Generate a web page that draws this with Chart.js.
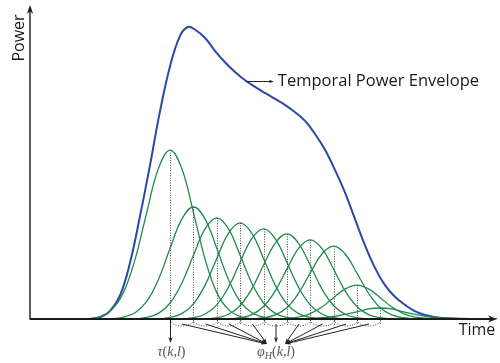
<!DOCTYPE html>
<html><head><meta charset="utf-8">
<script src="https://cdn.jsdelivr.net/npm/chart.js@4"></script>
<style>html,body{margin:0;padding:0;background:#fff}#wrap{width:500px;height:363px}</style>
</head><body><div id="wrap"><canvas id="c" width="500" height="363"></canvas></div>
<script>
// ---- data (time 0..100, power 0..100, arbitrary units) ----
const envelopeTime  = [0, 12.85, 15.0, 17.1, 19.3, 21.4, 23.6, 25.7, 27.8, 30.0, 32.1, 33.8, 35.3, 37.5, 39.6, 41.8, 43.9, 46.0, 48.2, 50.3, 52.5, 54.6, 56.7, 58.9, 61.0, 63.2, 65.3, 67.5, 69.6, 71.7, 73.9, 76.0, 78.2, 80.3, 82.4, 84.6, 87.8, 92.1, 100];
const envelopePower = [0, 0, 0.6, 2.5, 7.6, 17.8, 33.1, 49.0, 65.9, 80.6, 90.1, 93.0, 92.2, 89.5, 85.4, 81.7, 78.7, 76.1, 73.9, 72.0, 70.1, 68.2, 65.9, 63.1, 59.0, 53.8, 47.5, 40.1, 31.8, 23.6, 16.2, 10.8, 7.0, 4.5, 2.5, 1.3, 0.4, 0.1, 0];

const pulseCenters = [30, 35, 40, 45, 50, 55, 60, 65, 70, 75];
const pulseOffsets = [-17.5, -15, -12.5, -10, -7.5, -5, -2.5, 0, 2.5, 5, 7.5, 10, 12.5, 15, 17.5];
const pulse1  = [0, 0.8, 3.0, 8.4, 19.0, 33.9, 47.9, 53.8, 47.9, 33.9, 19.0, 8.4, 3.0, 0.8, 0];
const pulse2  = [0, 0.6, 2.0, 5.6, 12.6, 22.5, 31.8, 35.7, 31.8, 22.5, 12.6, 5.6, 2.0, 0.6, 0];
const pulse3  = [0, 0.5, 1.8, 5.1, 11.4, 20.3, 28.7, 32.2, 28.7, 20.3, 11.4, 5.1, 1.8, 0.5, 0];
const pulse4  = [0, 0.5, 1.7, 4.8, 10.8, 19.3, 27.3, 30.6, 27.3, 19.3, 10.8, 4.8, 1.7, 0.5, 0];
const pulse5  = [0, 0.4, 1.6, 4.5, 10.1, 18.1, 25.6, 28.7, 25.6, 18.1, 10.1, 4.5, 1.6, 0.4, 0];
const pulse6  = [0, 0.4, 1.5, 4.3, 9.6, 17.1, 24.1, 27.1, 24.1, 17.1, 9.6, 4.3, 1.5, 0.4, 0];
const pulse7  = [0, 0.4, 1.4, 4.0, 8.9, 15.9, 22.5, 25.2, 22.5, 15.9, 8.9, 4.0, 1.4, 0.4, 0];
const pulse8  = [0, 0.4, 1.3, 3.6, 8.2, 14.6, 20.7, 23.2, 20.7, 14.6, 8.2, 3.6, 1.3, 0.4, 0];
const pulse9  = [0, 0.2, 0.6, 1.7, 3.8, 6.8, 9.6, 10.8, 9.6, 6.8, 3.8, 1.7, 0.6, 0.2, 0];
const pulse10 = [0, 0.2, 0.4, 0.8, 1.5, 2.3, 3.2, 3.5, 3.2, 2.3, 1.5, 0.8, 0.4, 0.2, 0];
const pulsePower = [pulse1, pulse2, pulse3, pulse4, pulse5, pulse6, pulse7, pulse8, pulse9, pulse10];

const xAxisLabel = 'Time';
const yAxisLabel = 'Power';
const envelopeLabel = 'Temporal Power Envelope';
const envelopeLabelAt = 46;   // time where the label arrow starts

// ---- styles ----
const BLUE = '#2a48a8', GREEN = '#1f8a4b', DOT = '#4a4a4a', AX = '#1a1a1a';

function arrow(ctx, x1, y1, x2, y2, len, wid, color) {
  ctx.save();
  ctx.strokeStyle = color; ctx.fillStyle = color; ctx.setLineDash([]);
  const ang = Math.atan2(y2 - y1, x2 - x1);
  ctx.beginPath(); ctx.moveTo(x1, y1);
  ctx.lineTo(x2 - Math.cos(ang) * len * 0.6, y2 - Math.sin(ang) * len * 0.6); ctx.stroke();
  ctx.beginPath();
  ctx.moveTo(x2, y2);
  ctx.lineTo(x2 - Math.cos(ang) * len + Math.sin(ang) * wid, y2 - Math.sin(ang) * len - Math.cos(ang) * wid);
  ctx.lineTo(x2 - Math.cos(ang) * len * 0.7, y2 - Math.sin(ang) * len * 0.7);
  ctx.lineTo(x2 - Math.cos(ang) * len - Math.sin(ang) * wid, y2 - Math.sin(ang) * len + Math.cos(ang) * wid);
  ctx.closePath(); ctx.fill();
  ctx.restore();
}

function mathText(ctx, parts, cx, baseline, color) {
  ctx.save(); ctx.fillStyle = color; ctx.textBaseline = 'alphabetic'; ctx.textAlign = 'left';
  let w = 0;
  parts.forEach(p => { ctx.font = p[1]; w += ctx.measureText(p[0]).width; });
  let xx = cx - w / 2;
  parts.forEach(p => { ctx.font = p[1]; ctx.fillText(p[0], xx, baseline + (p[2] || 0)); xx += ctx.measureText(p[0]).width; });
  ctx.restore();
}

const annot = {
  id: 'annot',
  afterDatasetsDraw(chart) {
    const { ctx, scales: { x, y } } = chart;
    const y0 = y.getPixelForValue(0);
    const xL = x.getPixelForValue(0), xR = x.getPixelForValue(100), yT = y.getPixelForValue(100);
    const px = pulseCenters.map(c => Math.round(x.getPixelForValue(c)) + 0.5);
    ctx.save();
    // dotted verticals from each pulse peak
    ctx.strokeStyle = DOT; ctx.lineWidth = 1; ctx.setLineDash([1, 1.5]);
    pulseCenters.forEach((c, i) => {
      const peak = Math.max(...pulsePower[i]);
      ctx.beginPath(); ctx.moveTo(px[i], y.getPixelForValue(peak)); ctx.lineTo(px[i], y0 + 6); ctx.stroke();
    });
    // dotted arcs between consecutive delays
    for (let i = 0; i < px.length - 1; i++) {
      ctx.beginPath();
      ctx.moveTo(px[i], y0 + 1);
      ctx.bezierCurveTo(px[i] + 1, y0 + 9, px[i + 1] - 1, y0 + 9, px[i + 1], y0 + 1);
      ctx.stroke();
    }
    ctx.setLineDash([]);
    // axes
    ctx.strokeStyle = AX; ctx.lineWidth = 1.4;
    arrow(ctx, xL, y0 + 0.5, xL, yT, 9, 3.2, AX);
    ctx.lineWidth = 2.2;
    arrow(ctx, xL, y0, xR, y0, 9, 3.5, AX);
    // arrows towards phi_H
    ctx.lineWidth = 1;
    const phiX = (px[4] + px[5]) / 2;
    for (let i = 0; i < px.length - 1; i++) {
      const sx = (px[i] + px[i + 1]) / 2, sy = y0 + 5;
      let tx, ty = y0 + 25;
      if (i < 4) tx = phiX - 9; else if (i > 4) tx = phiX + 9; else { tx = phiX; ty = y0 + 24; }
      arrow(ctx, sx, sy, tx, ty, 6, 2, '#222');
    }
    // arrow towards tau
    arrow(ctx, px[0], y0 + 1, px[0], y0 + 24, 6, 2.2, '#222');
    // math labels
    const it = 'italic 14px "Liberation Serif"', up = '14px "Liberation Serif"', sub = 'italic 10px "Liberation Serif"';
    mathText(ctx, [['τ', it], ['(', up], ['k', it], [',', up], ['l', it], [')', up]], px[0] + 1, y0 + 37, '#555');
    mathText(ctx, [['φ', it], ['H', sub, 3], ['(', up], ['k', it], [',', up], ['l', it], [')', up]], phiX, y0 + 37, '#555');
    // axis labels
    ctx.fillStyle = '#1a1a1a'; ctx.font = '16px "Open Sans"';
    ctx.textAlign = 'center'; ctx.textBaseline = 'alphabetic';
    ctx.fillText(xAxisLabel, xR - 20, y0 + 16);
    ctx.save(); ctx.translate(xL - 6, yT + 33); ctx.rotate(-Math.PI / 2);
    ctx.fillText(yAxisLabel, 0, 0); ctx.restore();
    // envelope label
    const ex = x.getPixelForValue(envelopeLabelAt) + 1, ey = 81.5;
    ctx.lineWidth = 1;
    arrow(ctx, ex, ey, ex + 28, ey, 5, 1.8, '#222');
    ctx.font = '16.5px "Open Sans"';
    ctx.textAlign = 'left'; ctx.textBaseline = 'middle';
    ctx.fillText(envelopeLabel, ex + 32, ey);
    ctx.restore();
  }
};

const datasets = pulsePower.map((vals, i) => ({
  data: vals.map((v, j) => ({ x: pulseCenters[i] + pulseOffsets[j], y: v })),
  borderColor: GREEN, borderWidth: 1.3, pointRadius: 0, tension: 0.4, fill: false
}));
datasets.push({
  data: envelopeTime.map((t, j) => ({ x: t, y: envelopePower[j] })),
  borderColor: BLUE, borderWidth: 2, pointRadius: 0, tension: 0.4, fill: false
});

new Chart(document.getElementById('c'), {
  type: 'line',
  data: { datasets },
  options: {
    responsive: false, animation: false, devicePixelRatio: 1,
    layout: { padding: { left: 30, right: 3, top: 5, bottom: 44 } },
    plugins: { legend: { display: false }, tooltip: { enabled: false } },
    scales: {
      x: { type: 'linear', min: 0, max: 100, display: false },
      y: { min: 0, max: 100, display: false }
    }
  },
  plugins: [annot]
});
</script>
</body></html>
